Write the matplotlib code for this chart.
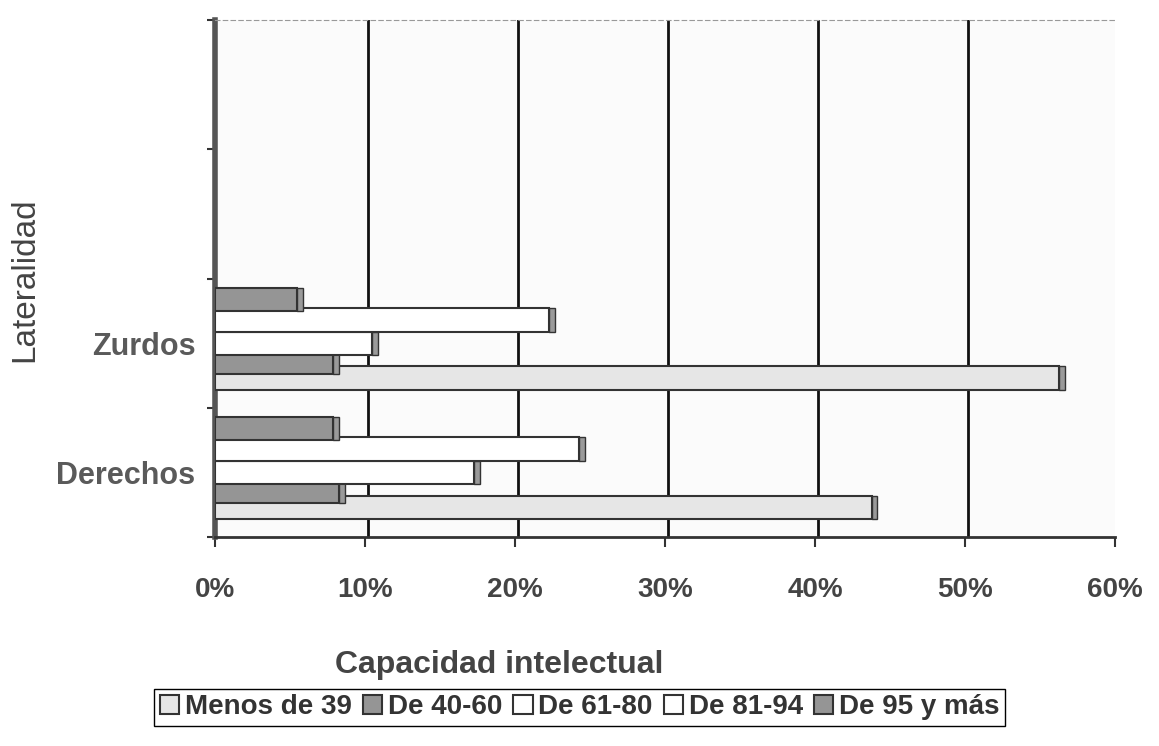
import numpy as np
import matplotlib.pyplot as plt

plt.rcParams['font.family'] = ['Liberation Sans', 'DejaVu Sans']

# datos (porcentajes)
categorias = ['Derechos', 'Zurdos', '', '']
series = ['Menos de 39', 'De 40-60', 'De 61-80', 'De 81-94', 'De 95 y más']
derechos = [43.8, 8.3, 17.3, 24.3, 7.9]
zurdos = [56.3, 7.9, 10.5, 22.3, 5.5]
colores = ['#e6e6e6', '#959595', '#ffffff', '#ffffff', '#959595']
desplaz = [-0.27, -0.15, 0.0, 0.18, 0.34]
alto = 0.18

fig = plt.figure(figsize=(11.59, 7.46), dpi=100)
ax = fig.add_axes([0.1855, 0.2802, 0.7765, 0.6928])

y = np.arange(len(categorias))
valores = np.array([derechos, zurdos])  # filas = categorias con datos

for i, nombre in enumerate(series):
    v = valores[:, i]
    pos = y[:2] + desplaz[i]
    ax.barh(pos, v, height=alto, color=colores[i], edgecolor='#333333',
            linewidth=1.5, label=nombre, zorder=3 + i)
    # tapa del extremo (efecto 3D)
    ax.barh(pos, 0.35, left=v, height=alto, color='#9a9a9a',
            edgecolor='#333333', linewidth=1.0, zorder=3 + i)

ax.set_xlim(0, 60)
ax.set_ylim(-0.5, 3.5)

ax.set_xticks(np.arange(0, 61, 10))
ax.set_xticklabels([f'{t}%' for t in range(0, 61, 10)], fontsize=20,
                   fontweight='bold', color='#444444')
ax.tick_params(axis='x', length=7, width=1.5, pad=22, color='#333333')

ax.set_yticks(y[:2])
ax.set_yticklabels(categorias[:2], fontsize=22, fontweight='bold',
                   color='#5a5a5a')
ax.set_yticks(np.arange(-0.5, 4, 1), minor=True)
ax.tick_params(axis='y', which='major', length=0, pad=14)
ax.tick_params(axis='y', which='minor', length=6, width=1.5, color='#333333')

for xv in range(10, 60, 10):
    ax.axvline(xv + 0.2, color='#111111', linewidth=2, zorder=1)

ax.spines['right'].set_visible(False)
ax.spines['left'].set_linewidth(4)
ax.spines['left'].set_color('#555555')
ax.spines['bottom'].set_linewidth(2)
ax.spines['bottom'].set_color('#333333')
ax.spines['top'].set_linestyle((0, (4, 3)))
ax.spines['top'].set_color('#999999')
ax.set_facecolor('#fbfbfb')

fig.text(0.0216, 0.6247, 'Lateralidad', rotation=90, fontsize=24,
         color='#444444', ha='center', va='center')
fig.text(0.431, 0.1086, 'Capacidad intelectual', fontsize=23,
         fontweight='bold', color='#444444', ha='center', va='center')

fig.legend(loc='center', bbox_to_anchor=(0.5, 0.052), ncol=5,
           prop={'size': 20, 'weight': 'bold'}, handlelength=0.7,
           handleheight=0.7, handletextpad=0.2, columnspacing=0.4,
           fancybox=False, edgecolor='black', framealpha=1,
           borderpad=0.2, borderaxespad=0.1, labelcolor='#333333')

fig.savefig('out.png', dpi=100)
